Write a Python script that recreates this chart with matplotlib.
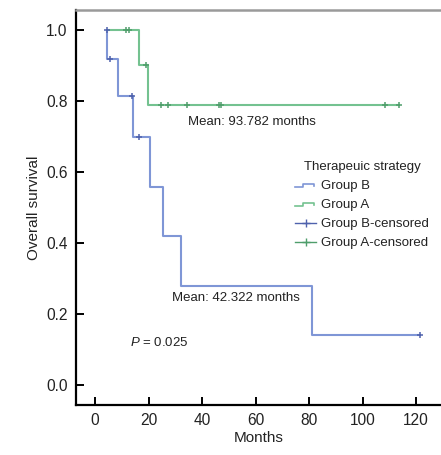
import matplotlib
matplotlib.use("Agg")
import matplotlib.pyplot as plt
from matplotlib.lines import Line2D
from matplotlib.legend_handler import HandlerBase

# ---------------- data ----------------
group_b_start = 4.3
group_b_event_times = [4.6, 8.6, 14.3, 20.6, 25.3, 32.0, 81.0]
group_b_survival = [0.917, 0.815, 0.698, 0.559, 0.419, 0.279, 0.140]
group_b_end = 121.5
group_b_censor_times = [4.3, 5.6, 13.8, 16.4, 121.5]

group_a_start = 4.3
group_a_event_times = [16.6, 19.8]
group_a_survival = [0.900, 0.7875]
group_a_end = 113.6
group_a_censor_times = [11.5, 12.7, 19.0, 24.7, 27.3, 34.4, 46.4, 47.2, 108.4, 113.6]

x_ticks = [0, 20, 40, 60, 80, 100, 120]
y_ticks = [0.0, 0.2, 0.4, 0.6, 0.8, 1.0]

mean_a_text = "Mean: 93.782 months"
mean_b_text = "Mean: 42.322 months"
p_text = "$P$ = 0.025"
legend_title = "Therapeuic strategy"
legend_labels = ["Group B", "Group A", "Group B-censored", "Group A-censored"]

# ---------------- style ----------------
plt.rcParams["font.family"] = ["Liberation Sans", "DejaVu Sans"]
plt.rcParams["mathtext.fontset"] = "custom"
plt.rcParams["mathtext.it"] = "Liberation Sans:italic"
plt.rcParams["mathtext.rm"] = "Liberation Sans"

TXT = "#222222"
BLUE = "#7f96d6"
BLUE_D = "#4f62ad"
GREEN = "#74c290"
GREEN_D = "#4f9e6b"
ANN = 9.5


def step_curve(start, times, surv, end):
    xs = [start]
    ys = [1.0]
    cur = 1.0
    for t, s in zip(times, surv):
        xs += [t, t]
        ys += [cur, s]
        cur = s
    xs.append(end)
    ys.append(cur)
    return xs, ys


def surv_at(t, times, surv):
    cur = 1.0
    for tt, s in zip(times, surv):
        if t >= tt:
            cur = s
    return cur


fig = plt.figure(figsize=(4.41, 4.55), dpi=100)
W, H = 441, 455
ax = fig.add_axes([76 / W, (H - 405) / H, (441 - 76) / W, (405 - 10) / H])

ppu = 355.0
ax.set_ylim(-20 / ppu, 1 + 20 / ppu)
ppm = 2.675
ax.set_xlim(-19 / ppm, (441 - 95) / ppm)

xb, yb = step_curve(group_b_start, group_b_event_times, group_b_survival, group_b_end)
xa, ya = step_curve(group_a_start, group_a_event_times, group_a_survival, group_a_end)
ax.plot(xa, ya, color=GREEN, lw=1.5, zorder=3)
ax.plot(xb, yb, color=BLUE, lw=1.5, zorder=3)

cb_y = [surv_at(t, group_b_event_times, group_b_survival) for t in group_b_censor_times]
ca_y = [surv_at(t, group_a_event_times, group_a_survival) for t in group_a_censor_times]
ax.plot(group_a_censor_times, ca_y, ls="none", marker="+", ms=5, mew=1.1,
        color=GREEN_D, zorder=4)
ax.plot(group_b_censor_times, cb_y, ls="none", marker="+", ms=5, mew=1.1,
        color=BLUE_D, zorder=4)

# spines / ticks
for side in ["left", "bottom"]:
    ax.spines[side].set_linewidth(1.6)
    ax.spines[side].set_color("black")
ax.spines["right"].set_visible(False)
ax.spines["top"].set_color("#9a9a9a")
ax.spines["top"].set_linewidth(1.8)
ax.set_xticks(x_ticks)
ax.set_yticks(y_ticks)
ax.set_yticklabels([f"{v:.1f}" for v in y_ticks])
ax.tick_params(direction="in", length=6, width=1.4, labelsize=11.2,
               colors="black", labelcolor=TXT, pad=6)
ax.set_xlabel("Months", fontsize=11, color=TXT, labelpad=2)
ax.set_ylabel("Overall survival", fontsize=11, color=TXT, labelpad=4)

# annotations
fig.text(188 / W, 1 - 122 / H, mean_a_text, fontsize=ANN, color=TXT,
         va="center", ha="left")
fig.text(172 / W, 1 - 298 / H, mean_b_text, fontsize=ANN, color=TXT,
         va="center", ha="left")
fig.text(130 / W, 1 - 342 / H, p_text, fontsize=ANN, color=TXT,
         va="center", ha="left")


class StepHandler(HandlerBase):
    def create_artists(self, legend, orig_handle, xdescent, ydescent, width,
                       height, fontsize, trans):
        x0 = -xdescent
        y0 = -ydescent
        xs = [x0, x0 + 0.4 * width, x0 + 0.4 * width, x0 + 0.9 * width,
              x0 + 0.9 * width]
        ys = [y0 + 0.2 * height, y0 + 0.2 * height, y0 + 0.6 * height,
              y0 + 0.6 * height, y0 + 0.3 * height]
        l = Line2D(xs, ys, color=orig_handle.get_color(), lw=1.2, transform=trans)
        return [l]


h_b = Line2D([], [], color=BLUE)
h_a = Line2D([], [], color=GREEN)
h_bc = Line2D([], [], color=BLUE_D, marker="+", ms=6, mew=1.0, lw=0)
h_ac = Line2D([], [], color=GREEN_D, marker="+", ms=6, mew=1.0, lw=0)
h_bc2 = Line2D([], [], color=BLUE_D, lw=1.0)
h_ac2 = Line2D([], [], color=GREEN_D, lw=1.0)

leg = fig.legend([h_b, h_a, (h_bc2, h_bc), (h_ac2, h_ac)], legend_labels,
                 title=legend_title, loc="upper left",
                 bbox_to_anchor=(295 / W, 1 - 161 / H), frameon=False,
                 fontsize=ANN, title_fontsize=ANN,
                 handlelength=1.6, handletextpad=0.4, labelspacing=0.52,
                 borderaxespad=0, borderpad=0,
                 handler_map={h_b: StepHandler(), h_a: StepHandler()})
leg.get_title().set_color(TXT)
leg._legend_box.align = "center"
for t in leg.get_texts():
    t.set_color(TXT)

fig.savefig("out.png", dpi=100)
